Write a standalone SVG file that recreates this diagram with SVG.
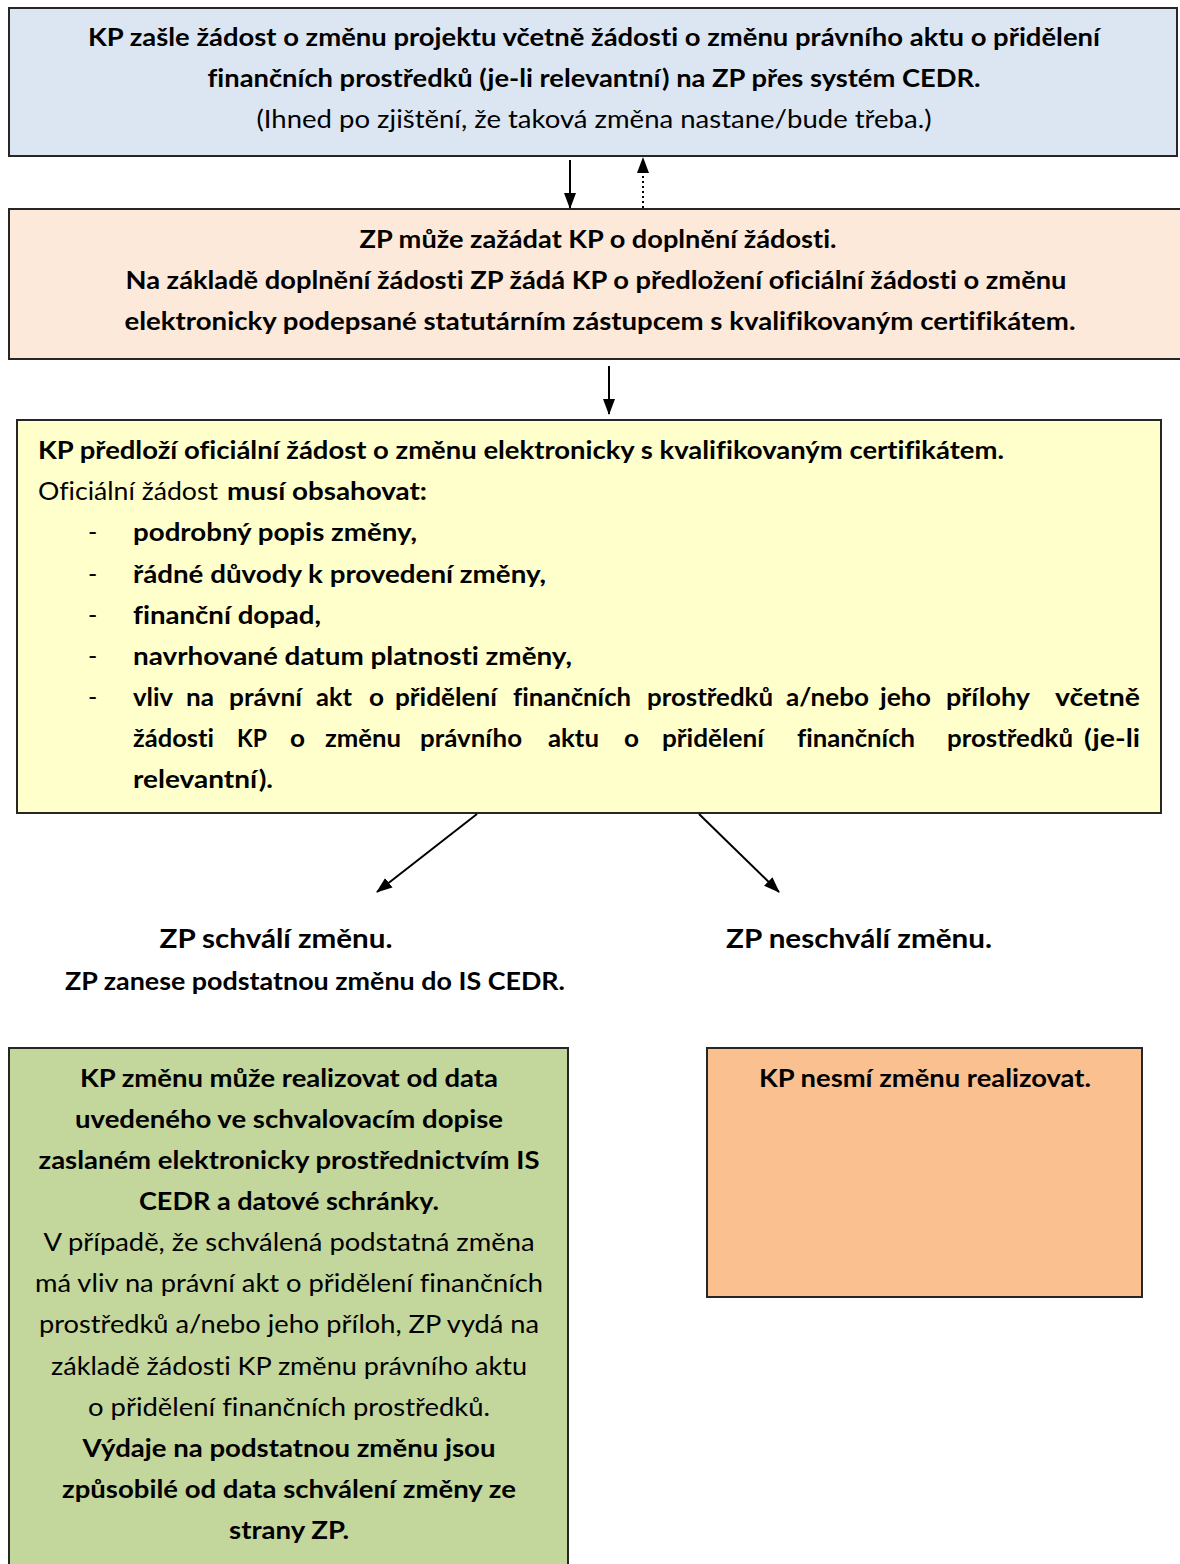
<svg xmlns="http://www.w3.org/2000/svg" width="1180" height="1564" viewBox="0 0 1180 1564">
<defs>
<style>
text{font-family:Lato,"Liberation Sans",sans-serif;font-size:25px;fill:#000;font-variant-ligatures:none}
.b{font-weight:bold}
.c{text-anchor:middle}
.box{stroke:#262626;stroke-width:2}
.con{stroke:#000;stroke-width:2;fill:none}
</style>
<marker id="ah" markerUnits="userSpaceOnUse" markerWidth="16" markerHeight="16" viewBox="0 0 16 16" refX="15" refY="8" orient="auto">
<path d="M0,2 L16,8 L0,14 Z" fill="#000"/>
</marker>
</defs>
<rect width="1180" height="1564" fill="#fff"/>

<g id="n1">
<rect class="box" x="9" y="8" width="1168" height="148" fill="#dce6f2"/>
<text class="b c" x="594" y="46" textLength="1012" lengthAdjust="spacingAndGlyphs">KP zašle žádost o změnu projektu včetně žádosti o změnu právního aktu o přidělení</text>
<text class="b c" x="594" y="87" textLength="773" lengthAdjust="spacingAndGlyphs">finančních prostředků (je-li relevantní) na ZP přes systém CEDR.</text>
<text class="c" x="594" y="128" textLength="675" lengthAdjust="spacingAndGlyphs">(Ihned po zjištění, že taková změna nastane/bude třeba.)</text>
</g>

<g id="n2">
<rect class="box" x="9" y="209" width="1180" height="150" fill="#fde9d9"/>
<text class="b c" x="598" y="248" textLength="477" lengthAdjust="spacingAndGlyphs">ZP může zažádat KP o doplnění žádosti.</text>
<text class="b c" x="596" y="289" textLength="941" lengthAdjust="spacingAndGlyphs">Na základě doplnění žádosti ZP žádá KP o předložení oficiální žádosti o změnu</text>
<text class="b c" x="600" y="330" textLength="951" lengthAdjust="spacingAndGlyphs">elektronicky podepsané statutárním zástupcem s kvalifikovaným certifikátem.</text>
</g>

<g id="n3">
<rect class="box" x="17" y="420" width="1144" height="393" fill="#ffffcc" stroke="#3a3a3a"/>
<text class="b" x="38" y="459" textLength="966" lengthAdjust="spacingAndGlyphs">KP předloží oficiální žádost o změnu elektronicky s kvalifikovaným certifikátem.</text>
<text x="38" y="500" textLength="180" lengthAdjust="spacingAndGlyphs">Oficiální žádost</text>
<text class="b" x="227" y="500" textLength="200" lengthAdjust="spacingAndGlyphs">musí obsahovat:</text>
<text x="88" y="541">-</text>
<text x="88" y="583">-</text>
<text x="88" y="624">-</text>
<text x="88" y="665">-</text>
<text x="88" y="706">-</text>
<text class="b" x="133" y="541" textLength="284" lengthAdjust="spacingAndGlyphs">podrobný popis změny,</text>
<text class="b" x="133" y="583" textLength="413" lengthAdjust="spacingAndGlyphs">řádné důvody k provedení změny,</text>
<text class="b" x="133" y="624" textLength="188" lengthAdjust="spacingAndGlyphs">finanční dopad,</text>
<text class="b" x="133" y="665" textLength="439" lengthAdjust="spacingAndGlyphs">navrhované datum platnosti změny,</text>
<text class="b" x="133" y="706" textLength="40" lengthAdjust="spacingAndGlyphs">vliv</text>
<text class="b" x="186" y="706" textLength="28" lengthAdjust="spacingAndGlyphs">na</text>
<text class="b" x="229" y="706" textLength="73" lengthAdjust="spacingAndGlyphs">právní</text>
<text class="b" x="316" y="706" textLength="36" lengthAdjust="spacingAndGlyphs">akt</text>
<text class="b" x="369" y="706" textLength="15" lengthAdjust="spacingAndGlyphs">o</text>
<text class="b" x="395" y="706" textLength="102" lengthAdjust="spacingAndGlyphs">přidělení</text>
<text class="b" x="513" y="706" textLength="118" lengthAdjust="spacingAndGlyphs">finančních</text>
<text class="b" x="647" y="706" textLength="126" lengthAdjust="spacingAndGlyphs">prostředků</text>
<text class="b" x="786" y="706" textLength="83" lengthAdjust="spacingAndGlyphs">a/nebo</text>
<text class="b" x="880" y="706" textLength="51" lengthAdjust="spacingAndGlyphs">jeho</text>
<text class="b" x="946" y="706" textLength="84" lengthAdjust="spacingAndGlyphs">přílohy</text>
<text class="b" x="1055" y="706" textLength="85" lengthAdjust="spacingAndGlyphs">včetně</text>
<text class="b" x="133" y="747" textLength="81" lengthAdjust="spacingAndGlyphs">žádosti</text>
<text class="b" x="237" y="747" textLength="30" lengthAdjust="spacingAndGlyphs">KP</text>
<text class="b" x="290" y="747" textLength="15" lengthAdjust="spacingAndGlyphs">o</text>
<text class="b" x="325" y="747" textLength="76" lengthAdjust="spacingAndGlyphs">změnu</text>
<text class="b" x="420" y="747" textLength="102" lengthAdjust="spacingAndGlyphs">právního</text>
<text class="b" x="548" y="747" textLength="51" lengthAdjust="spacingAndGlyphs">aktu</text>
<text class="b" x="624" y="747" textLength="15" lengthAdjust="spacingAndGlyphs">o</text>
<text class="b" x="662" y="747" textLength="102" lengthAdjust="spacingAndGlyphs">přidělení</text>
<text class="b" x="797" y="747" textLength="118" lengthAdjust="spacingAndGlyphs">finančních</text>
<text class="b" x="947" y="747" textLength="126" lengthAdjust="spacingAndGlyphs">prostředků</text>
<text class="b" x="1084" y="747" textLength="56" lengthAdjust="spacingAndGlyphs">(je-li</text>
<text class="b" x="133" y="788" textLength="140" lengthAdjust="spacingAndGlyphs">relevantní).</text>
</g>

<g id="n4">
<text class="b c" x="276" y="948" style="font-size:27px" textLength="233" lengthAdjust="spacingAndGlyphs">ZP schválí změnu.</text>
<text class="b c" x="315" y="990" textLength="500" lengthAdjust="spacingAndGlyphs">ZP zanese podstatnou změnu do IS CEDR.</text>
</g>

<g id="n5">
<text class="b c" x="859" y="948" style="font-size:27px" textLength="266" lengthAdjust="spacingAndGlyphs">ZP neschválí změnu.</text>
</g>

<g id="n6">
<rect class="box" x="9" y="1048" width="559" height="530" fill="#c3d69b"/>
<text class="b c" x="289" y="1087" textLength="418" lengthAdjust="spacingAndGlyphs">KP změnu může realizovat od data</text>
<text class="b c" x="289" y="1128" textLength="428" lengthAdjust="spacingAndGlyphs">uvedeného ve schvalovacím dopise</text>
<text class="b c" x="289" y="1169" textLength="501" lengthAdjust="spacingAndGlyphs">zaslaném elektronicky prostřednictvím IS</text>
<text class="b c" x="289" y="1210" textLength="300" lengthAdjust="spacingAndGlyphs">CEDR a datové schránky.</text>
<text class="c" x="289" y="1251" textLength="491" lengthAdjust="spacingAndGlyphs">V případě, že schválená podstatná změna</text>
<text class="c" x="289" y="1292" textLength="508" lengthAdjust="spacingAndGlyphs">má vliv na právní akt o přidělení finančních</text>
<text class="c" x="289" y="1333" textLength="500" lengthAdjust="spacingAndGlyphs">prostředků a/nebo jeho příloh, ZP vydá na</text>
<text class="c" x="289" y="1375" textLength="476" lengthAdjust="spacingAndGlyphs">základě žádosti KP změnu právního aktu</text>
<text class="c" x="289" y="1416" textLength="402" lengthAdjust="spacingAndGlyphs">o přidělení finančních prostředků.</text>
<text class="b c" x="289" y="1457" textLength="413" lengthAdjust="spacingAndGlyphs">Výdaje na podstatnou změnu jsou</text>
<text class="b c" x="289" y="1498" textLength="454" lengthAdjust="spacingAndGlyphs">způsobilé od data schválení změny ze</text>
<text class="b c" x="289" y="1539" textLength="120" lengthAdjust="spacingAndGlyphs">strany ZP.</text>
</g>

<g id="n7">
<rect class="box" x="707" y="1048" width="435" height="249" fill="#fac090"/>
<text class="b c" x="925" y="1087" textLength="332" lengthAdjust="spacingAndGlyphs">KP nesmí změnu realizovat.</text>
</g>

<g id="connectors">
<line class="con" x1="570" y1="160" x2="570" y2="208" marker-end="url(#ah)"/>
<line class="con" x1="643" y1="208" x2="643" y2="158" stroke-dasharray="2,3" marker-end="url(#ah)"/>
<line class="con" x1="609" y1="366" x2="609" y2="414" marker-end="url(#ah)"/>
<line class="con" x1="477" y1="814" x2="377" y2="892" marker-end="url(#ah)"/>
<line class="con" x1="699" y1="814" x2="779" y2="892" marker-end="url(#ah)"/>
</g>
</svg>
